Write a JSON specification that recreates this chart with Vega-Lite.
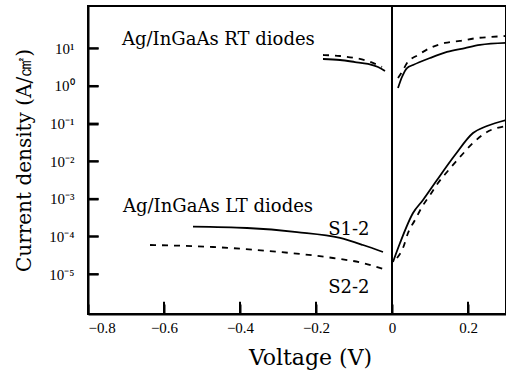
{
  "$schema": "https://vega.github.io/schema/vega-lite/v6.json",
  "width": 418,
  "height": 308,
  "autosize": {"type": "none"},
  "padding": {"left": 88, "top": 6, "right": 0, "bottom": 56},
  "background": "white",
  "config": {
    "view": {"stroke": "black", "strokeWidth": 2},
    "axis": {
      "grid": false,
      "ticks": true,
      "tickSize": -10,
      "tickWidth": 2,
      "tickColor": "black",
      "domainColor": "black",
      "domainWidth": 2,
      "labelColor": "black",
      "labelFont": "Liberation Serif",
      "labelFontSize": 15,
      "titleColor": "black",
      "titleFont": "DejaVu Serif",
      "titleFontWeight": "normal",
      "titleFontSize": 20
    }
  },
  "datasets": {
    "rtRevS1": [
      {"V": -0.1816, "J": 5.21}, {"V": -0.1368, "J": 4.9}, {"V": -0.0974, "J": 4.33},
      {"V": -0.0632, "J": 3.84}, {"V": -0.0368, "J": 3.19}, {"V": -0.0184, "J": 2.5}
    ],
    "rtRevS2": [
      {"V": -0.1816, "J": 6.65}, {"V": -0.1368, "J": 6.25}, {"V": -0.0974, "J": 5.53},
      {"V": -0.0632, "J": 4.6}, {"V": -0.0263, "J": 3.19}
    ],
    "rtFwdS1": [
      {"V": 0.0158, "J": 0.883}, {"V": 0.0263, "J": 1.73}, {"V": 0.0395, "J": 3.0},
      {"V": 0.0553, "J": 3.6}, {"V": 0.1, "J": 5.53}, {"V": 0.1447, "J": 8.0},
      {"V": 0.1921, "J": 10.2}, {"V": 0.2316, "J": 12.3}, {"V": 0.3, "J": 13.9}
    ],
    "rtFwdS2": [
      {"V": 0.0158, "J": 1.63}, {"V": 0.0263, "J": 2.35}, {"V": 0.0395, "J": 4.08},
      {"V": 0.0684, "J": 6.65}, {"V": 0.1, "J": 10.2}, {"V": 0.1395, "J": 13.9},
      {"V": 0.1789, "J": 15.7}, {"V": 0.2237, "J": 18.8}, {"V": 0.2579, "J": 20.0},
      {"V": 0.3, "J": 21.3}
    ],
    "ltFwdS1": [
      {"V": 0.0026, "J": 2.1e-5}, {"V": 0.0211, "J": 6.71e-5}, {"V": 0.0553, "J": 4.21e-4},
      {"V": 0.0816, "J": 9.33e-4}, {"V": 0.1184, "J": 3.17e-3}, {"V": 0.1658, "J": 0.0146},
      {"V": 0.2132, "J": 0.0562}, {"V": 0.25, "J": 0.0863}, {"V": 0.3, "J": 0.1245}
    ],
    "ltFwdS2": [
      {"V": 0.0132, "J": 2.68e-5}, {"V": 0.0289, "J": 4.94e-5}, {"V": 0.0421, "J": 1.24e-4},
      {"V": 0.0605, "J": 2.74e-4}, {"V": 0.0789, "J": 6.08e-4}, {"V": 0.1, "J": 1.26e-3},
      {"V": 0.1211, "J": 2.64e-3}, {"V": 0.1447, "J": 5.18e-3}, {"V": 0.1789, "J": 0.01294},
      {"V": 0.2132, "J": 0.0305}, {"V": 0.25, "J": 0.0598}, {"V": 0.3, "J": 0.0863}
    ],
    "ltRevS1": [
      {"V": -0.5237, "J": 1.82e-4}, {"V": -0.3816, "J": 1.68e-4}, {"V": -0.25, "J": 1.31e-4},
      {"V": -0.1368, "J": 9.12e-5}, {"V": -0.0763, "J": 5.94e-5}, {"V": -0.0237, "J": 3.87e-5}
    ],
    "ltRevS2": [
      {"V": -0.6368, "J": 5.94e-5}, {"V": -0.4711, "J": 5.25e-5}, {"V": -0.2947, "J": 3.87e-5},
      {"V": -0.1553, "J": 2.68e-5}, {"V": -0.0763, "J": 1.97e-5}, {"V": -0.0237, "J": 1.37e-5}
    ],
    "labels": [
      {"V": -0.7105, "J": 12.3, "label": "Ag/InGaAs RT diodes"},
      {"V": -0.7079, "J": 4.48e-4, "label": "Ag/InGaAs LT diodes"},
      {"V": -0.168, "J": 1.094e-4, "label": "S1-2"},
      {"V": -0.168, "J": 3.15e-6, "label": "S2-2"}
    ],
    "xticks": [{"V": -0.6}, {"V": -0.4}, {"V": -0.2}, {"V": 0}, {"V": 0.2}],
    "yticks": [{"J": 10}, {"J": 1}, {"J": 0.1}, {"J": 0.01}, {"J": 0.001}, {"J": 0.0001}, {"J": 0.00001}],
    "zero": [{"V": 0}]
  },
  "layer": [
    {
      "data": {"name": "rtRevS1"},
      "mark": {"type": "line", "color": "black", "strokeWidth": 1.8, "interpolate": "monotone"},
      "encoding": {
        "x": {
          "field": "V", "type": "quantitative",
          "scale": {"domain": [-0.8, 0.3], "nice": false, "zero": false},
          "axis": {
            "title": "Voltage (V)",
            "titleFontSize": 22,
            "titleX": 222,
            "values": [-0.8, -0.6, -0.4, -0.2, 0, 0.2],
            "labelExpr": "datum.value == 0 ? '0' : format(datum.value, '.1f')",
            "labelPadding": 16,
            "titlePadding": 12
          }
        },
        "y": {
          "field": "J", "type": "quantitative",
          "scale": {"type": "log", "domain": [8.71e-7, 133.4], "nice": false},
          "axis": {
            "title": "Current density (A/㎠)",
            "values": [10, 1, 0.1, 0.01, 0.001, 0.0001, 0.00001],
            "labelExpr": "['10⁻⁵','10⁻⁴','10⁻³','10⁻²','10⁻¹','10⁰','10¹'][round(log(datum.value)/LN10)+5]",
            "labelPadding": 24,
            "titlePadding": 14
          }
        }
      }
    },
    {
      "data": {"name": "rtRevS2"},
      "mark": {"type": "line", "color": "black", "strokeWidth": 1.8, "interpolate": "monotone", "strokeDash": [6, 6]},
      "encoding": {"x": {"field": "V", "type": "quantitative"}, "y": {"field": "J", "type": "quantitative"}}
    },
    {
      "data": {"name": "rtFwdS1"},
      "mark": {"type": "line", "color": "black", "strokeWidth": 1.8, "interpolate": "monotone"},
      "encoding": {"x": {"field": "V", "type": "quantitative"}, "y": {"field": "J", "type": "quantitative"}}
    },
    {
      "data": {"name": "rtFwdS2"},
      "mark": {"type": "line", "color": "black", "strokeWidth": 1.8, "interpolate": "monotone", "strokeDash": [6, 6]},
      "encoding": {"x": {"field": "V", "type": "quantitative"}, "y": {"field": "J", "type": "quantitative"}}
    },
    {
      "data": {"name": "ltFwdS1"},
      "mark": {"type": "line", "color": "black", "strokeWidth": 1.8, "interpolate": "monotone"},
      "encoding": {"x": {"field": "V", "type": "quantitative"}, "y": {"field": "J", "type": "quantitative"}}
    },
    {
      "data": {"name": "ltFwdS2"},
      "mark": {"type": "line", "color": "black", "strokeWidth": 1.8, "interpolate": "monotone", "strokeDash": [6, 6]},
      "encoding": {"x": {"field": "V", "type": "quantitative"}, "y": {"field": "J", "type": "quantitative"}}
    },
    {
      "data": {"name": "ltRevS1"},
      "mark": {"type": "line", "color": "black", "strokeWidth": 1.8, "interpolate": "monotone"},
      "encoding": {"x": {"field": "V", "type": "quantitative"}, "y": {"field": "J", "type": "quantitative"}}
    },
    {
      "data": {"name": "ltRevS2"},
      "mark": {"type": "line", "color": "black", "strokeWidth": 1.8, "interpolate": "monotone", "strokeDash": [6, 6]},
      "encoding": {"x": {"field": "V", "type": "quantitative"}, "y": {"field": "J", "type": "quantitative"}}
    },
    {
      "data": {"name": "xticks"},
      "mark": {"type": "rule", "color": "#000000", "strokeWidth": 2},
      "encoding": {
        "x": {"field": "V", "type": "quantitative"},
        "y": {"datum": 8.71e-7},
        "y2": {"datum": 1.85e-6}
      }
    },
    {
      "data": {"name": "yticks"},
      "mark": {"type": "rule", "color": "#000000", "strokeWidth": 2},
      "encoding": {
        "y": {"field": "J", "type": "quantitative"},
        "x": {"datum": -0.8},
        "x2": {"datum": -0.772}
      }
    },
    {
      "data": {"name": "zero"},
      "mark": {"type": "rule", "color": "black", "strokeWidth": 2},
      "encoding": {"x": {"field": "V", "type": "quantitative"}}
    },
    {
      "data": {"name": "labels"},
      "mark": {"type": "text", "align": "left", "baseline": "alphabetic", "font": "DejaVu Serif", "fontSize": 18, "color": "black"},
      "encoding": {
        "x": {"field": "V", "type": "quantitative"},
        "y": {"field": "J", "type": "quantitative"},
        "text": {"field": "label"}
      }
    }
  ]
}
